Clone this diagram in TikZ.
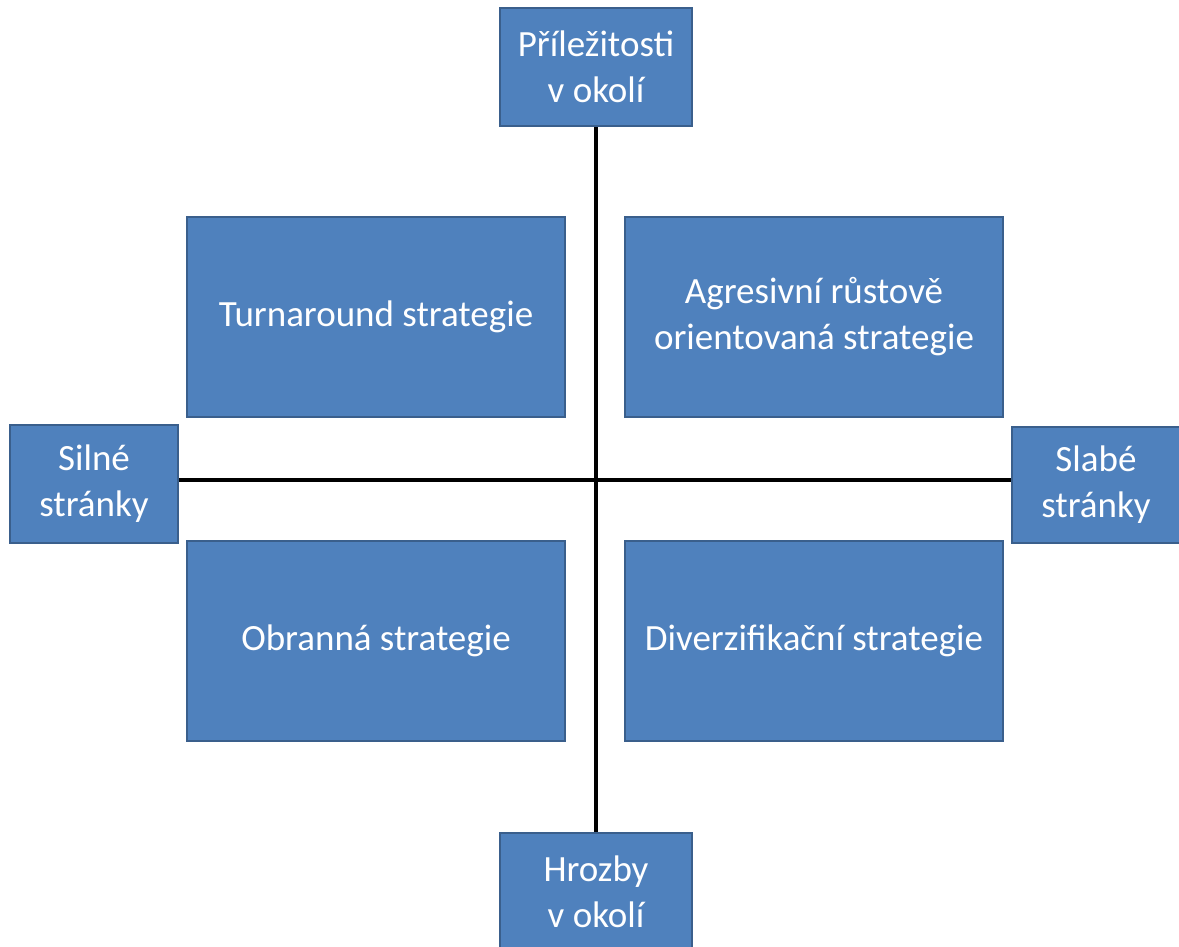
\documentclass[tikz,border=0pt]{standalone}
\usepackage{fontspec}
\setmainfont{Carlito}
\definecolor{boxfill}{HTML}{4F81BD}
\definecolor{boxline}{HTML}{3A5F8C}
\begin{document}
\begin{tikzpicture}[x=1pt,y=-1pt,
  card/.style={draw=boxline, line width=2pt, fill=boxfill, text=white,
    align=center, inner sep=0pt, font=\fontsize{37}{46}\selectfont,
    execute at begin node={\vspace*{8pt}}},
  axis/.style={draw=black, line width=4pt}]
\useasboundingbox (0,0) rectangle (1179,946);
\clip (0,0) rectangle (1179,946);
\coordinate (c) at (596,480);
% axis end labels
\node[card, minimum width=192pt, minimum height=118pt] (top) at (596,67) {Příležitosti\\v okolí};
\node[card, minimum width=192pt, minimum height=118pt] (bottom) at (596,892) {Hrozby\\v okolí};
\node[card, minimum width=168pt, minimum height=118pt] (left) at (94,484) {Silné\\stránky};
\node[card, minimum width=168pt, minimum height=116pt] (right) at (1096,485) {Slabé\\stránky};
% axes
\draw[axis] (top.south) -- (bottom.north);
\draw[axis] (left.east |- c) -- (right.west |- c);
% quadrants
\node[card, minimum width=378pt, minimum height=200pt] (tl) at (376,317) {Turnaround strategie};
\node[card, minimum width=378pt, minimum height=200pt] (tr) at (814,317) {Agresivní růstově\\orientovaná strategie};
\node[card, minimum width=378pt, minimum height=200pt] (bl) at (376,641) {Obranná strategie};
\node[card, minimum width=378pt, minimum height=200pt] (br) at (814,641) {Diverzifikační strategie};
\end{tikzpicture}
\end{document}
